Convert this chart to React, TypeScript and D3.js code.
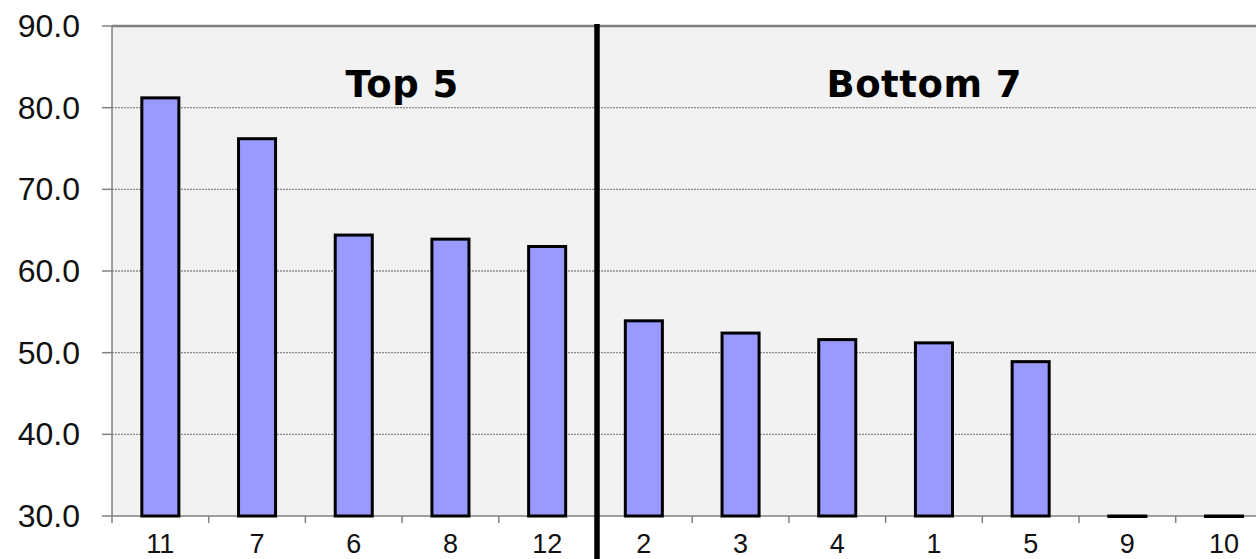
import React from "react";
import * as d3 from "d3";

const categories = ["11", "7", "6", "8", "12", "2", "3", "4", "1", "5", "9", "10"];
const values = [81.2, 76.2, 64.4, 63.9, 63.0, 53.9, 52.4, 51.6, 51.2, 48.9, 0, 0];
const yTicks = [30, 40, 50, 60, 70, 80, 90];
const groupLabels = ["Top 5", "Bottom 7"];
const groupSizes = [5, 7];

const W = 1256;
const H = 559;
const left = 112;
const top = 26;
const bottom = 516;
const step = 96.7;
const right = left + categories.length * step;

export default function App() {
  const x = d3
    .scaleBand<string>()
    .domain(categories)
    .range([left, right])
    .paddingInner(0.617)
    .paddingOuter(0.617 / 2);
  const y = d3.scaleLinear().domain([30, 90]).range([bottom, top]).clamp(true);

  const boundaries = d3.range(categories.length + 1).map((i) => left + i * x.step());
  const dividerX = left + groupSizes[0] * x.step() + 1.5;
  const groupCenters = [
    left + 3.0 * x.step(),
    left + (groupSizes[0] + 3.4) * x.step(),
  ];

  return (
    <svg
      width={W}
      height={H}
      style={{ position: "absolute", left: 0, top: 0, display: "block" }}
    >
      <rect x={0} y={0} width={W} height={H} fill="#ffffff" />
      <rect x={left} y={top} width={right - left} height={bottom - top} fill="#f2f2f2" />
      {yTicks.map((t) => (
        <g key={t}>
          {t !== 30 && t !== 90 && (
            <line
              x1={left}
              x2={right}
              y1={y(t)}
              y2={y(t)}
              stroke="#8a8a8a"
              strokeWidth={1.3}
              strokeDasharray="2,1"
            />
          )}
          <line x1={left - 10} x2={left} y1={y(t)} y2={y(t)} stroke="#808080" strokeWidth={1.5} />
          <text
            x={80}
            y={y(t)}
            textAnchor="end"
            dominantBaseline="central"
            fontFamily="Liberation Sans, Arial, sans-serif"
            fontSize={32}
            fill="#111"
          >
            {d3.format(".1f")(t)}
          </text>
        </g>
      ))}
      <line x1={left} x2={right} y1={top} y2={top} stroke="#808080" strokeWidth={2.5} />
      <line x1={left} x2={left} y1={top} y2={bottom} stroke="#808080" strokeWidth={1.5} />
      <line x1={left} x2={right} y1={bottom} y2={bottom} stroke="#808080" strokeWidth={1.5} />
      {boundaries.map((b, i) => (
        <line key={i} x1={b} x2={b} y1={bottom} y2={bottom + 7} stroke="#808080" strokeWidth={1.5} />
      ))}
      {categories.map((c, i) => {
        const v = Math.max(values[i], 30);
        return (
          <rect
            key={c}
            x={x(c)}
            y={y(v)}
            width={x.bandwidth()}
            height={Math.max(bottom - y(v), 0.5)}
            fill="#9999ff"
            stroke="#000"
            strokeWidth={3}
          />
        );
      })}
      {categories.map((c) => (
        <text
          key={c}
          x={(x(c) as number) + x.bandwidth() / 2}
          y={553}
          textAnchor="middle"
          fontFamily="Liberation Sans, Arial, sans-serif"
          fontSize={27}
          fill="#111"
        >
          {c}
        </text>
      ))}
      <line x1={dividerX} x2={dividerX} y1={24} y2={H} stroke="#000" strokeWidth={5.5} />
      {groupLabels.map((g, i) => (
        <text
          key={g}
          x={groupCenters[i]}
          y={96.7}
          textAnchor="middle"
          fontFamily="DejaVu Sans, Verdana, sans-serif"
          fontWeight="bold"
          fontSize={37}
          letterSpacing={0.5}
          fill="#000"
        >
          {g}
        </text>
      ))}
    </svg>
  );
}
